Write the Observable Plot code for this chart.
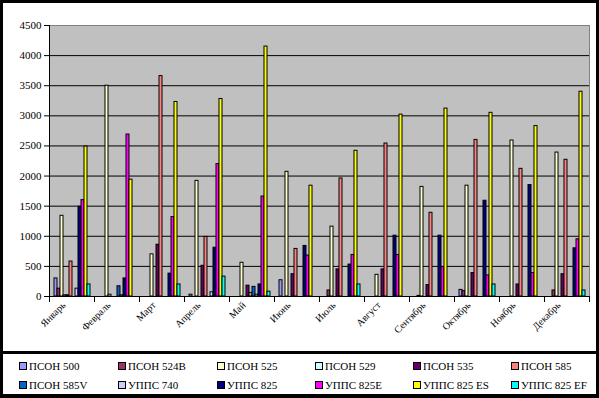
<!DOCTYPE html>
<html>
<head>
<meta charset="utf-8">
<script src="https://cdn.jsdelivr.net/npm/d3@7"></script>
<script src="https://cdn.jsdelivr.net/npm/@observablehq/plot@0.6"></script>
<style>
  html, body { margin: 0; padding: 0; background: #000; }
  #page { position: relative; width: 599px; height: 398px; background: #000; overflow: hidden; }
  #chart { position: absolute; left: 3px; top: 3px; width: 593px; height: 348px; background: #fff; }
  #legendbox { position: absolute; left: 3px; top: 354px; width: 593px; height: 40px; background: #fff; }
  .li { position: absolute; font-family: "Liberation Serif", "Times New Roman", serif; font-size: 11px; color: #000; white-space: nowrap; line-height: 12px; }
  .sw { display: inline-block; width: 6px; height: 6px; border: 1px solid #000; margin-right: 2px; vertical-align: 0px; }
</style>
</head>
<body>
<div id="page">
  <div id="chart"></div>
  <div id="legendbox"></div>
</div>
<script>
const months = ["Январь", "Февраль", "Март", "Апрель", "Май", "Июнь", "Июль", "Август", "Сентябрь", "Октябрь", "Ноябрь", "Декабрь"];
const seriesNames = ["ПСОН 500", "ПСОН 524B", "ПСОН 525", "ПСОН 529", "ПСОН 535", "ПСОН 585", "ПСОН 585V", "УППС 740", "УППС 825", "УППС 825E", "УППС 825 ES", "УППС 825 EF"];
const seriesColors = ["#9999FF", "#993366", "#FFFFCC", "#CCFFFF", "#660066", "#FF8080", "#0066CC", "#CCCCFF", "#000080", "#FF00FF", "#FFFF00", "#00FFFF"];

const pson500  = [300, 0, 0, 30, 0, 270, 0, 0, 0, 110, 0, 0];
const pson524B = [130, 0, 0, 0, 0, 0, 100, 0, 10, 90, 0, 100];
const pson525  = [1340, 3500, 700, 1920, 560, 2070, 1160, 360, 1820, 1840, 2590, 2390];
const pson529  = [20, 30, 0, 0, 0, 0, 0, 0, 0, 0, 0, 0];
const pson535  = [20, 0, 860, 510, 180, 370, 450, 450, 190, 390, 200, 370];
const pson585  = [580, 0, 3660, 990, 60, 790, 1960, 2540, 1390, 2600, 2120, 2270];
const pson585V = [0, 170, 0, 0, 160, 0, 0, 0, 0, 0, 0, 0];
const upps740  = [130, 20, 0, 70, 30, 0, 0, 0, 0, 0, 0, 0];
const upps825  = [1490, 300, 380, 810, 200, 840, 530, 1010, 1010, 1590, 1850, 800];
const upps825E = [1600, 2690, 1320, 2200, 1660, 680, 690, 690, 490, 350, 390, 950];
const upps825ES = [2490, 1940, 3230, 3280, 4150, 1840, 2420, 3020, 3120, 3050, 2830, 3400];
const upps825EF = [200, 0, 200, 330, 80, 0, 200, 0, 0, 200, 0, 100];

const yTicks = [0, 500, 1000, 1500, 2000, 2500, 3000, 3500, 4000, 4500];
const gridVals = [500, 1000, 1500, 2000, 2500, 3000, 3500, 4000];

const allSeries = [pson500, pson524B, pson525, pson529, pson535, pson585, pson585V, upps740, upps825, upps825E, upps825ES, upps825EF];
const data = [];
months.forEach((m, i) => {
  seriesNames.forEach((s, j) => {
    data.push({month: m, series: s, value: allSeries[j][i]});
  });
});

const serif = "'Liberation Serif', 'Times New Roman', serif";

const chart = Plot.plot({
  width: 593,
  height: 348,
  marginLeft: 46,
  marginRight: 7,
  marginTop: 22,
  marginBottom: 55,
  style: {background: "white", fontFamily: serif, fontSize: "11px", color: "black", overflow: "visible"},
  fx: {domain: months, padding: 0, label: null},
  x: {domain: seriesNames, paddingInner: 0, paddingOuter: 1, axis: null},
  y: {domain: [0, 4500], label: null},
  color: {domain: seriesNames, range: seriesColors},
  marks: [
    Plot.frame({fill: "#C0C0C0", facet: "super"}),
    Plot.ruleY(gridVals, {stroke: "black", strokeWidth: 1}),
    Plot.frame({anchor: "top", stroke: "#808080", facet: "super"}),
    Plot.frame({anchor: "right", stroke: "#808080", facet: "super"}),
    Plot.barY(data, {fx: "month", x: "series", y: "value", fill: "series", stroke: "black", strokeWidth: 1}),
    Plot.ruleY([0], {stroke: "black", strokeWidth: 1}),
    Plot.frame({anchor: "left", stroke: "black", facet: "super"}),
    Plot.frame({anchor: "left", stroke: "black", insetTop: 271, insetBottom: -5}),
    Plot.frame({anchor: "right", stroke: "black", insetTop: 271, insetBottom: -5, facet: "super"}),
    Plot.axisY({ticks: yTicks, tickSize: 5, tickPadding: 3, fontSize: 11, label: null, tickFormat: d => String(d)}),
    Plot.axisFx({anchor: "bottom", tickRotate: -45, tickSize: 0, tickPadding: 7, dx: -8, fontSize: 10, label: null})
  ]
});
document.getElementById("chart").appendChild(chart);

// Legend
const page = document.getElementById("page");
const colX = [19, 118, 217, 315, 413, 511];
const rowY = [360, 379];
seriesNames.forEach((s, j) => {
  const el = document.createElement("div");
  el.className = "li";
  el.style.left = colX[j % 6] + "px";
  el.style.top = rowY[Math.floor(j / 6)] + "px";
  const sw = document.createElement("span");
  sw.className = "sw";
  sw.style.background = seriesColors[j];
  el.appendChild(sw);
  el.appendChild(document.createTextNode(s));
  page.appendChild(el);
});
</script>
</body>
</html>
